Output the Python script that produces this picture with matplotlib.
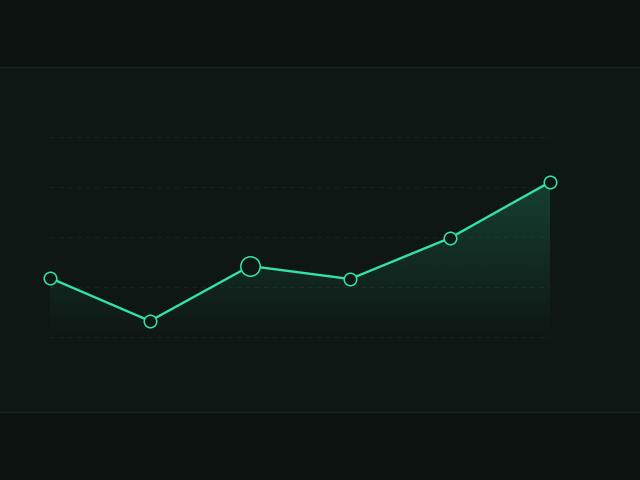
import numpy as np
import matplotlib
matplotlib.use("Agg")
import matplotlib.pyplot as plt
from matplotlib.patches import Rectangle, Polygon

# data
categories = ["P1", "P2", "P3", "P4", "P5", "P6"]
values = [29.5, 8.0, 35.5, 29.0, 49.5, 77.5]
grid_values = [0, 25, 50, 75, 100]
highlight_index = 2

BG = "#0b1210"
PANEL = "#0f1714"
PANEL_EDGE = "#1a2621"
LINE = "#32e3a8"
GRID = "#18221e"

fig = plt.figure(figsize=(6.4, 4.8), dpi=100, facecolor=BG)
ax = fig.add_axes([0, 0, 1, 1])
ax.set_facecolor("none")
ax.axis("off")

# panel band (axes covers whole figure, so axes coords = figure coords)
ax.add_patch(Rectangle((0, (480 - 412) / 480), 1, (412 - 67) / 480,
                       transform=ax.transAxes, facecolor=PANEL,
                       edgecolor="none", zorder=0))
for yp in (67, 412):
    ax.plot([0, 1], [(480 - yp) / 480] * 2, transform=ax.transAxes,
            color=PANEL_EDGE, lw=1.0, zorder=0.5)

x = np.arange(len(values))
# grid lines
ax.hlines(grid_values, 0, len(values) - 1, colors=GRID, linestyles=(0, (4, 4)), lw=0.8, zorder=1)

# gradient fill
ymax = max(values)
grad = np.linspace(0, 1, 256).reshape(-1, 1)
rgba = np.zeros((256, 1, 4))
c = matplotlib.colors.to_rgb(LINE)
rgba[..., 0], rgba[..., 1], rgba[..., 2] = c
rgba[..., 3] = grad * 0.2
im = ax.imshow(rgba, extent=[0, len(values) - 1, 0, ymax], origin="lower",
               aspect="auto", zorder=2)
ax.set_xlim(-0.5, 5.9)
ax.set_ylim(-71.5, 168.5)
poly = Polygon(list(zip(x, values)) + [(len(values) - 1, 0), (0, 0)], closed=True,
               facecolor="none", edgecolor="none")
ax.add_patch(poly)
im.set_clip_path(poly)

ax.plot(x, values, color=LINE, lw=1.7, zorder=3, solid_capstyle="round")
for i, (xi, yi) in enumerate(zip(x, values)):
    ms = 14 if i == highlight_index else 9
    ax.plot([xi], [yi], marker="o", ms=ms, mfc=PANEL, mec=LINE, mew=1.1, zorder=4)

fig.savefig("out.png", dpi=100, facecolor=BG)
